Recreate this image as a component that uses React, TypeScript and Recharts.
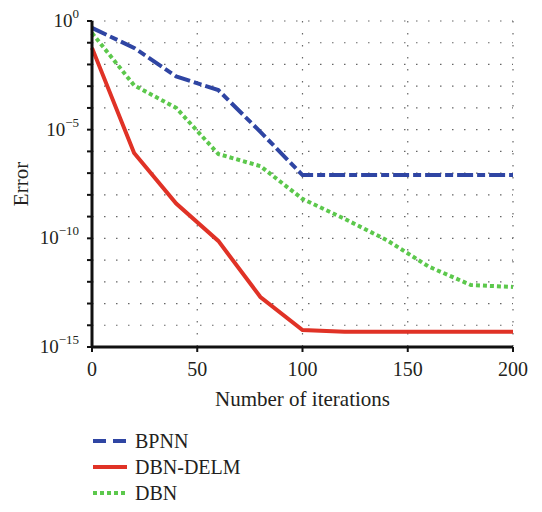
import React from 'react';
import { LineChart, Line, XAxis, YAxis, CartesianGrid } from 'recharts';

const iterations = [0, 20, 40, 60, 80, 100, 120, 140, 160, 180, 200];
const bpnn = [0.48, 0.058, 2.8e-3, 6.6e-4, 7.9e-6, 8.1e-8, 8.1e-8, 8.1e-8, 8.1e-8, 8.1e-8, 8.1e-8];
const dbnDelm = [5.8e-2, 8.5e-7, 4.0e-9, 7.6e-11, 2.0e-13, 6.0e-15, 5.0e-15, 5.0e-15, 5.0e-15, 5.0e-15, 5.0e-15];
const dbn = [0.28, 1.1e-3, 1.0e-4, 7.6e-7, 2.1e-7, 6.5e-9, 7.9e-10, 8.3e-11, 5.0e-12, 7.1e-13, 5.8e-13];

const xTicks = [0, 50, 100, 150, 200];
const yTicks = [1e-15, 1e-14, 1e-13, 1e-12, 1e-11, 1e-10, 1e-9, 1e-8, 1e-7, 1e-6, 1e-5, 1e-4, 1e-3, 1e-2, 1e-1, 1];

const series = [
  { key: 'bpnn', name: 'BPNN', color: '#2f45a3', dash: '16 4 8 4', width: 4 },
  { key: 'dbnDelm', name: 'DBN-DELM', color: '#e03226', dash: undefined as string | undefined, width: 4 },
  { key: 'dbn', name: 'DBN', color: '#5cc84c', dash: '4 3', width: 4 },
];

const data = iterations.map((it, i) => ({ it, bpnn: bpnn[i], dbnDelm: dbnDelm[i], dbn: dbn[i] }));

const FONT = '"Liberation Serif", "DejaVu Serif", serif';
const TXT = '#231f20';

const YTick = (props: any) => {
  const { x, y, payload } = props;
  const e = Math.round(Math.log10(payload.value));
  if (e % 5 !== 0) return null;
  const sup = e === 0 ? '0' : '\u2212' + String(-e);
  return (
    <text x={x - 6} y={y + 6} textAnchor="end" fontFamily={FONT} fontSize={19} fill={TXT}>
      <tspan>10</tspan>
      <tspan dy={-9} fontSize={13}>{sup}</tspan>
    </text>
  );
};

const XTick = (props: any) => {
  const { x, y, payload } = props;
  return (
    <text x={x} y={y + 22} textAnchor="middle" fontFamily={FONT} fontSize={20} fill={TXT}>
      {payload.value}
    </text>
  );
};

export default function App() {
  return (
    <div style={{ position: 'relative', width: 526, height: 508, marginTop: -8 }}>
      <LineChart width={526} height={508} data={data} margin={{ top: 21, right: 21, left: 24, bottom: 101 }}>
        <CartesianGrid stroke="#666" strokeDasharray="1.5 10.5" strokeWidth={1.2} />
        <XAxis
          dataKey="it"
          type="number"
          domain={[0, 200]}
          ticks={xTicks}
          height={60}
          tickSize={5}
          tickLine={{ stroke: '#111', strokeWidth: 2 }}
          axisLine={{ stroke: '#111', strokeWidth: 3 }}
          tick={<XTick />}
          label={{ value: 'Number of iterations', position: 'insideBottom', offset: 1, fontFamily: FONT, fontSize: 21, fill: TXT }}
        />
        <XAxis xAxisId="top" orientation="top" dataKey="it" type="number" domain={[0, 200]} height={0} tick={false} tickLine={false} axisLine={{ stroke: '#111', strokeWidth: 3 }} />
        <YAxis
          type="number"
          scale="log"
          domain={[1e-15, 1]}
          allowDataOverflow
          ticks={yTicks}
          width={60}
          tickSize={5}
          tickLine={{ stroke: '#111', strokeWidth: 2 }}
          axisLine={{ stroke: '#111', strokeWidth: 3 }}
          tick={<YTick />}
          interval={0}
          label={{
            content: (p: any) => {
              const vb = p.viewBox;
              const cx = vb.x - 11;
              const cy = vb.y + vb.height / 2;
              return (
                <text x={cx} y={cy} transform={`rotate(-90 ${cx} ${cy})`} textAnchor="middle" dominantBaseline="central" fontFamily={FONT} fontSize={21} fill={TXT}>
                  Error
                </text>
              );
            },
          }}
        />
        <YAxis yAxisId="right" orientation="right" width={0} tick={false} tickLine={false} axisLine={{ stroke: '#111', strokeWidth: 3 }} />
        {series.map((s) => (
          <Line
            key={s.key}
            dataKey={s.key}
            name={s.name}
            stroke={s.color}
            strokeWidth={s.width}
            strokeDasharray={s.dash}
            dot={false}
            activeDot={false}
            type="linear"
            isAnimationActive={false}
          />
        ))}
      </LineChart>
      <div style={{ position: 'absolute', left: 85, top: 428, fontFamily: FONT, fontSize: 20, color: TXT }}>
        {series.map((s) => (
          <div key={s.key} style={{ display: 'flex', alignItems: 'center', height: 26 }}>
            <svg width={34} height={8} style={{ marginRight: 8 }}>
              <line x1={0} y1={4} x2={34} y2={4} stroke={s.color} strokeWidth={4} strokeDasharray={s.key === 'bpnn' ? '13 7' : s.dash} />
            </svg>
            <span>{s.name}</span>
          </div>
        ))}
      </div>
    </div>
  );
}
